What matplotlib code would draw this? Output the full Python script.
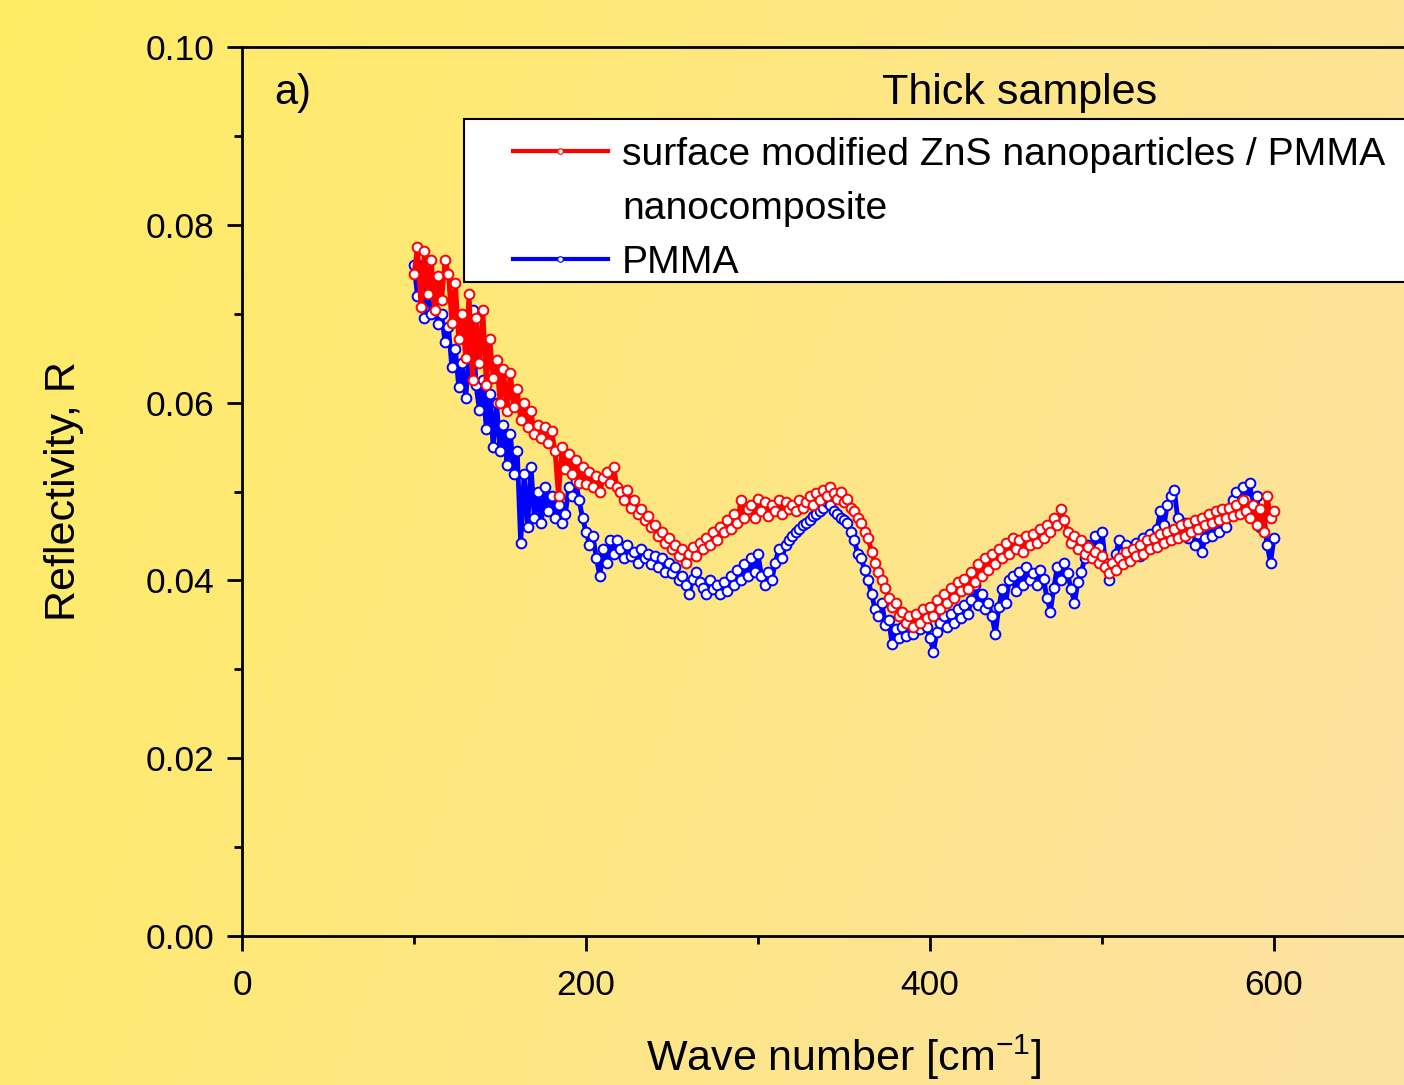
from __future__ import annotations

import matplotlib

matplotlib.use("Agg")
import matplotlib.pyplot as plt
import numpy as np
from matplotlib.lines import Line2D
from matplotlib.patches import Rectangle


plt.rcParams.update(
    {
        "font.family": ["Liberation Sans", "DejaVu Sans"],
        "xtick.labelsize": 25.5,
        "ytick.labelsize": 25.5,
        "axes.labelsize": 31,
    }
)


# Wave number grid (every 2 cm-1)
WAVE_NUMBER = list(range(100, 601, 2))

# surface modified ZnS nanoparticles / PMMA nanocomposite
R_ZNS = [
    0.0745, 0.0775, 0.0708, 0.0770, 0.0722, 0.0760, 0.0704, 0.0742, 0.0715, 0.0760,
    0.0745, 0.0690, 0.0735, 0.0672, 0.0700, 0.0650, 0.0722, 0.0625, 0.0695, 0.0645,
    0.0704, 0.0620, 0.0672, 0.0628, 0.0648, 0.0600, 0.0638, 0.0590, 0.0633, 0.0595,
    0.0615, 0.0580, 0.0600, 0.0572, 0.0590, 0.0565, 0.0575, 0.0560, 0.0572, 0.0555,
    0.0568, 0.0545, 0.0495, 0.0550, 0.0525, 0.0542, 0.0520, 0.0535, 0.0510, 0.0528,
    0.0508, 0.0522, 0.0505, 0.0518, 0.0500, 0.0515, 0.0522, 0.0510, 0.0528, 0.0505,
    0.0500, 0.0490, 0.0502, 0.0482, 0.0490, 0.0475, 0.0480, 0.0468, 0.0472, 0.0460,
    0.0462, 0.0450, 0.0455, 0.0442, 0.0448, 0.0435, 0.0440, 0.0428, 0.0435, 0.0420,
    0.0430, 0.0438, 0.0428, 0.0442, 0.0435, 0.0448, 0.0440, 0.0455, 0.0445, 0.0460,
    0.0455, 0.0468, 0.0458, 0.0475, 0.0465, 0.0490, 0.0470, 0.0480, 0.0485, 0.0470,
    0.0492, 0.0478, 0.0488, 0.0472, 0.0485, 0.0478, 0.0490, 0.0475, 0.0488, 0.0480,
    0.0485, 0.0478, 0.0490, 0.0482, 0.0488, 0.0495, 0.0485, 0.0498, 0.0490, 0.0502,
    0.0495, 0.0505, 0.0498, 0.0492, 0.0500, 0.0488, 0.0492, 0.0482, 0.0478, 0.0470,
    0.0465, 0.0455, 0.0448, 0.0432, 0.0420, 0.0410, 0.0400, 0.0392, 0.0380, 0.0370,
    0.0375, 0.0360, 0.0365, 0.0352, 0.0360, 0.0348, 0.0362, 0.0352, 0.0368, 0.0358,
    0.0370, 0.0360, 0.0378, 0.0368, 0.0385, 0.0375, 0.0392, 0.0380, 0.0398, 0.0388,
    0.0402, 0.0390, 0.0410, 0.0398, 0.0418, 0.0405, 0.0425, 0.0412, 0.0430, 0.0418,
    0.0435, 0.0425, 0.0442, 0.0430, 0.0448, 0.0435, 0.0445, 0.0432, 0.0450, 0.0440,
    0.0452, 0.0442, 0.0458, 0.0448, 0.0462, 0.0455, 0.0470, 0.0462, 0.0480, 0.0468,
    0.0455, 0.0442, 0.0450, 0.0435, 0.0445, 0.0430, 0.0438, 0.0425, 0.0432, 0.0420,
    0.0428, 0.0415, 0.0408, 0.0420, 0.0412, 0.0425, 0.0418, 0.0432, 0.0422, 0.0435,
    0.0428, 0.0440, 0.0430, 0.0445, 0.0435, 0.0448, 0.0438, 0.0452, 0.0442, 0.0455,
    0.0445, 0.0458, 0.0448, 0.0462, 0.0450, 0.0465, 0.0455, 0.0468, 0.0458, 0.0470,
    0.0462, 0.0475, 0.0465, 0.0478, 0.0468, 0.0480, 0.0470, 0.0482, 0.0472, 0.0485,
    0.0475, 0.0490, 0.0478, 0.0470, 0.0485, 0.0462, 0.0480, 0.0455, 0.0495, 0.0470,
    0.0478,
]

# pure PMMA
R_PMMA = [
    0.0755, 0.0720, 0.0765, 0.0695, 0.0740, 0.0700, 0.0715, 0.0688, 0.0700, 0.0668,
    0.0685, 0.0640, 0.0660, 0.0618, 0.0645, 0.0605, 0.0650, 0.0704, 0.0620, 0.0592,
    0.0625, 0.0570, 0.0610, 0.0550, 0.0600, 0.0545, 0.0575, 0.0530, 0.0565, 0.0520,
    0.0545, 0.0442, 0.0520, 0.0460, 0.0528, 0.0470, 0.0500, 0.0465, 0.0505, 0.0478,
    0.0495, 0.0470, 0.0485, 0.0465, 0.0475, 0.0505, 0.0495, 0.0512, 0.0490, 0.0470,
    0.0455, 0.0440, 0.0450, 0.0425, 0.0405, 0.0435, 0.0420, 0.0445, 0.0430, 0.0445,
    0.0435, 0.0425, 0.0440, 0.0428, 0.0432, 0.0420, 0.0435, 0.0425, 0.0430, 0.0418,
    0.0428, 0.0415, 0.0425, 0.0410, 0.0420, 0.0408, 0.0415, 0.0400, 0.0405, 0.0395,
    0.0385, 0.0402, 0.0410, 0.0398, 0.0392, 0.0385, 0.0400, 0.0390, 0.0395, 0.0385,
    0.0398, 0.0388, 0.0405, 0.0395, 0.0412, 0.0400, 0.0418, 0.0405, 0.0425, 0.0410,
    0.0430, 0.0405, 0.0395, 0.0410, 0.0400, 0.0420, 0.0435, 0.0425, 0.0440, 0.0445,
    0.0450, 0.0455, 0.0458, 0.0462, 0.0465, 0.0468, 0.0472, 0.0475, 0.0478, 0.0482,
    0.0488, 0.0485, 0.0478, 0.0475, 0.0470, 0.0468, 0.0465, 0.0455, 0.0445, 0.0430,
    0.0425, 0.0412, 0.0400, 0.0385, 0.0368, 0.0360, 0.0375, 0.0350, 0.0355, 0.0328,
    0.0345, 0.0335, 0.0348, 0.0338, 0.0352, 0.0340, 0.0355, 0.0345, 0.0358, 0.0348,
    0.0335, 0.0320, 0.0342, 0.0352, 0.0360, 0.0348, 0.0362, 0.0352, 0.0368, 0.0358,
    0.0372, 0.0362, 0.0378, 0.0395, 0.0372, 0.0385, 0.0368, 0.0375, 0.0360, 0.0340,
    0.0370, 0.0390, 0.0375, 0.0400, 0.0405, 0.0388, 0.0410, 0.0395, 0.0415, 0.0400,
    0.0408, 0.0395, 0.0412, 0.0402, 0.0380, 0.0365, 0.0392, 0.0415, 0.0400, 0.0420,
    0.0408, 0.0390, 0.0375, 0.0398, 0.0410, 0.0425, 0.0440, 0.0428, 0.0450, 0.0438,
    0.0455, 0.0420, 0.0400, 0.0418, 0.0430, 0.0445, 0.0432, 0.0440, 0.0425, 0.0435,
    0.0442, 0.0428, 0.0448, 0.0435, 0.0452, 0.0440, 0.0458, 0.0478, 0.0462, 0.0485,
    0.0495, 0.0502, 0.0470, 0.0455, 0.0465, 0.0448, 0.0458, 0.0440, 0.0452, 0.0432,
    0.0448, 0.0462, 0.0450, 0.0468, 0.0455, 0.0472, 0.0460, 0.0478, 0.0490, 0.0500,
    0.0485, 0.0505, 0.0492, 0.0510, 0.0470, 0.0495, 0.0460, 0.0475, 0.0440, 0.0420,
    0.0448,
]

LABEL_ZNS_LINE1 = "surface modified ZnS nanoparticles / PMMA"
LABEL_ZNS_LINE2 = "nanocomposite"
LABEL_PMMA = "PMMA"


def draw_background(fig) -> None:
    # yellow page gradient, a bit paler towards the bottom right
    bg = fig.add_axes([0, 0, 1, 1], zorder=-1)
    h, w = 200, 260
    u = np.linspace(0, 1, w)[None, :]
    v = np.linspace(0, 1, h)[:, None]
    t = np.clip(0.8 * u + 0.25 * v, 0, 1)[..., None]
    c0 = np.array([255, 236, 100]) / 255
    c1 = np.array([252, 226, 160]) / 255
    img = c0 * (1 - t) + c1 * t
    bg.imshow(img, aspect="auto", extent=(0, 1, 0, 1), origin="upper")
    bg.set_axis_off()


def make_plot(filename: str = "out.png") -> None:
    fig = plt.figure(figsize=(14.04, 10.85), dpi=100)
    draw_background(fig)

    ax = fig.add_axes([0.1724, 0.1373, 0.8575, 0.8194])
    ax.set_facecolor("none")

    line_kw = dict(lw=3.5, marker="o", ms=7, mfc="white", mew=1.4)
    ax.plot(WAVE_NUMBER, R_PMMA, color="#0000ff", mec="#0000ff", **line_kw)
    ax.plot(WAVE_NUMBER, R_ZNS, color="#ff0000", mec="#ff0000", **line_kw)

    ax.set_xlim(0, 700)
    ax.set_ylim(0, 0.10)
    ax.set_xticks([0, 200, 400, 600])
    ax.set_xticks([100, 300, 500], minor=True)
    ax.set_yticks(np.arange(0, 0.101, 0.02))
    ax.set_yticks(np.arange(0.01, 0.1, 0.02), minor=True)
    ax.yaxis.set_major_formatter(plt.FormatStrFormatter("%.2f"))
    ax.tick_params(which="major", direction="out", length=11, width=2)
    ax.tick_params(axis="x", which="major", pad=13)
    ax.tick_params(axis="y", which="major", pad=9)
    ax.tick_params(which="minor", direction="out", length=6, width=2)
    for sp in ax.spines.values():
        sp.set_linewidth(2)

    ax.set_xlabel("Wave number [cm$^{\\mathregular{-1}}$]", labelpad=22)
    ax.set_ylabel("Reflectivity, R", labelpad=44)

    ax.text(0.027, 0.948, "a)", transform=ax.transAxes, fontsize=30,
            ha="left", va="center")
    ax.text(0.646, 0.948, "Thick samples", transform=ax.transAxes,
            fontsize=31, ha="center", va="center")

    # legend box runs off the right side of the page
    ax.add_patch(Rectangle((0.1844, 0.7357), 0.85, 0.1834, transform=ax.transAxes,
                           facecolor="white", edgecolor="black", lw=1.5,
                           clip_on=False, zorder=4))
    handles = [
        Line2D([], [], color="#ff0000", lw=3, marker="o", ms=4, mfc="white",
               mec="#ff0000", mew=0.8),
        Line2D([], [], color="none"),
        Line2D([], [], color="#0000ff", lw=3, marker="o", ms=4, mfc="white",
               mec="#0000ff", mew=0.8),
    ]
    leg = ax.legend(handles, [LABEL_ZNS_LINE1, LABEL_ZNS_LINE2, LABEL_PMMA],
                    loc="upper left", bbox_to_anchor=(0.2251, 0.899),
                    frameon=False, fontsize=28.2, handlelength=2.42,
                    handletextpad=0.36, labelspacing=0.46, borderpad=0,
                    borderaxespad=0, numpoints=1)
    leg.set_zorder(5)

    fig.savefig(filename, dpi=100)
    plt.close(fig)


if __name__ == "__main__":
    make_plot()
